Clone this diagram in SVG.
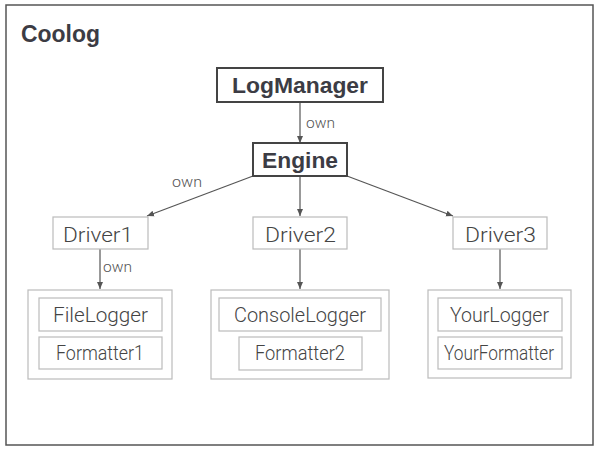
<svg xmlns="http://www.w3.org/2000/svg" width="600" height="450" viewBox="0 0 600 450">
<defs>
<marker id="ah" markerWidth="8" markerHeight="8" refX="7" refY="4" orient="auto" markerUnits="userSpaceOnUse">
<path d="M0,1 L7,4 L0,7 Z" fill="#555"/>
</marker>
<style>
.frame{fill:#fff;stroke:#555;stroke-width:1.5}
.main{fill:#fff;stroke:#444;stroke-width:2}
.sub{fill:#fff;stroke:#bbb;stroke-width:1.2}
.bt{font-family:"Liberation Sans",Arial,sans-serif;font-weight:bold;fill:#3c3c44;text-anchor:middle}
.rt{font-family:Roboto,"Liberation Sans",Arial,sans-serif;font-weight:300;fill:#444;text-anchor:middle;font-size:20px}
.lbl{font-family:Roboto,"Liberation Sans",Arial,sans-serif;font-weight:300;fill:#555;font-size:15px}
.ln{stroke:#555;stroke-width:1.2;fill:none;marker-end:url(#ah)}
</style>
</defs>
<rect width="600" height="450" fill="#fff"/>
<rect class="frame" x="6" y="5" width="587" height="440"/>
<text x="21" y="42" font-family="Liberation Sans,Arial,sans-serif" font-weight="bold" font-size="23" fill="#3c3c44" textLength="79" lengthAdjust="spacingAndGlyphs">Coolog</text>
<g id="connectors">
<line class="ln" x1="300" y1="102" x2="300" y2="143"/>
<line class="ln" x1="253" y1="176" x2="147" y2="216"/>
<line class="ln" x1="300" y1="176" x2="300" y2="216"/>
<line class="ln" x1="347" y1="176" x2="453" y2="216"/>
<line class="ln" x1="100" y1="249" x2="100" y2="289"/>
<line class="ln" x1="300" y1="249" x2="300" y2="289"/>
<line class="ln" x1="500" y1="249" x2="500" y2="289"/>
<text class="lbl" x="306" y="128" textLength="29" lengthAdjust="spacingAndGlyphs">own</text>
<text class="lbl" x="172" y="187" textLength="30" lengthAdjust="spacingAndGlyphs">own</text>
<text class="lbl" x="103" y="272" textLength="29" lengthAdjust="spacingAndGlyphs">own</text>
</g>
<g id="LogManager">
<rect class="main" x="217" y="68" width="166" height="34"/>
<text class="bt" x="300" y="93" font-size="22.8" textLength="136" lengthAdjust="spacingAndGlyphs">LogManager</text>
</g>
<g id="Engine">
<rect class="main" x="253" y="143" width="94" height="33"/>
<text class="bt" x="300" y="168" font-size="22.8" textLength="76" lengthAdjust="spacingAndGlyphs">Engine</text>
</g>
<g id="Driver1">
<rect class="sub" x="53" y="217" width="95" height="32"/>
<text class="rt" x="98" y="242" font-size="22" textLength="70" lengthAdjust="spacingAndGlyphs">Driver1</text>
</g>
<g id="Driver2">
<rect class="sub" x="253" y="217" width="94" height="32"/>
<text class="rt" x="300.5" y="242" font-size="22" textLength="71" lengthAdjust="spacingAndGlyphs">Driver2</text>
</g>
<g id="Driver3">
<rect class="sub" x="453" y="217" width="94" height="32"/>
<text class="rt" x="500.5" y="242" font-size="22" textLength="71" lengthAdjust="spacingAndGlyphs">Driver3</text>
</g>
<g id="Group1">
<rect class="sub" x="28" y="290" width="144" height="89"/>
</g>
<g id="FileLogger">
<rect class="sub" x="39" y="298" width="123" height="33"/>
<text class="rt" x="100.5" y="322" textLength="95" lengthAdjust="spacingAndGlyphs">FileLogger</text>
</g>
<g id="Formatter1">
<rect class="sub" x="39" y="337" width="123" height="32"/>
<text class="rt" x="100" y="360" textLength="88" lengthAdjust="spacingAndGlyphs">Formatter1</text>
</g>
<g id="Group2">
<rect class="sub" x="211" y="290" width="178" height="89"/>
</g>
<g id="ConsoleLogger">
<rect class="sub" x="219" y="298" width="162" height="33"/>
<text class="rt" x="300" y="322" textLength="132" lengthAdjust="spacingAndGlyphs">ConsoleLogger</text>
</g>
<g id="Formatter2">
<rect class="sub" x="239" y="337" width="123" height="33"/>
<text class="rt" x="300" y="360" textLength="90" lengthAdjust="spacingAndGlyphs">Formatter2</text>
</g>
<g id="Group3">
<rect class="sub" x="428" y="290" width="143" height="88"/>
</g>
<g id="YourLogger">
<rect class="sub" x="438" y="298" width="124" height="33"/>
<text class="rt" x="499.5" y="322" textLength="99" lengthAdjust="spacingAndGlyphs">YourLogger</text>
</g>
<g id="YourFormatter">
<rect class="sub" x="438" y="337" width="124" height="32"/>
<text class="rt" x="499" y="360" font-size="18" textLength="110" lengthAdjust="spacingAndGlyphs">YourFormatter</text>
</g>
</svg>
